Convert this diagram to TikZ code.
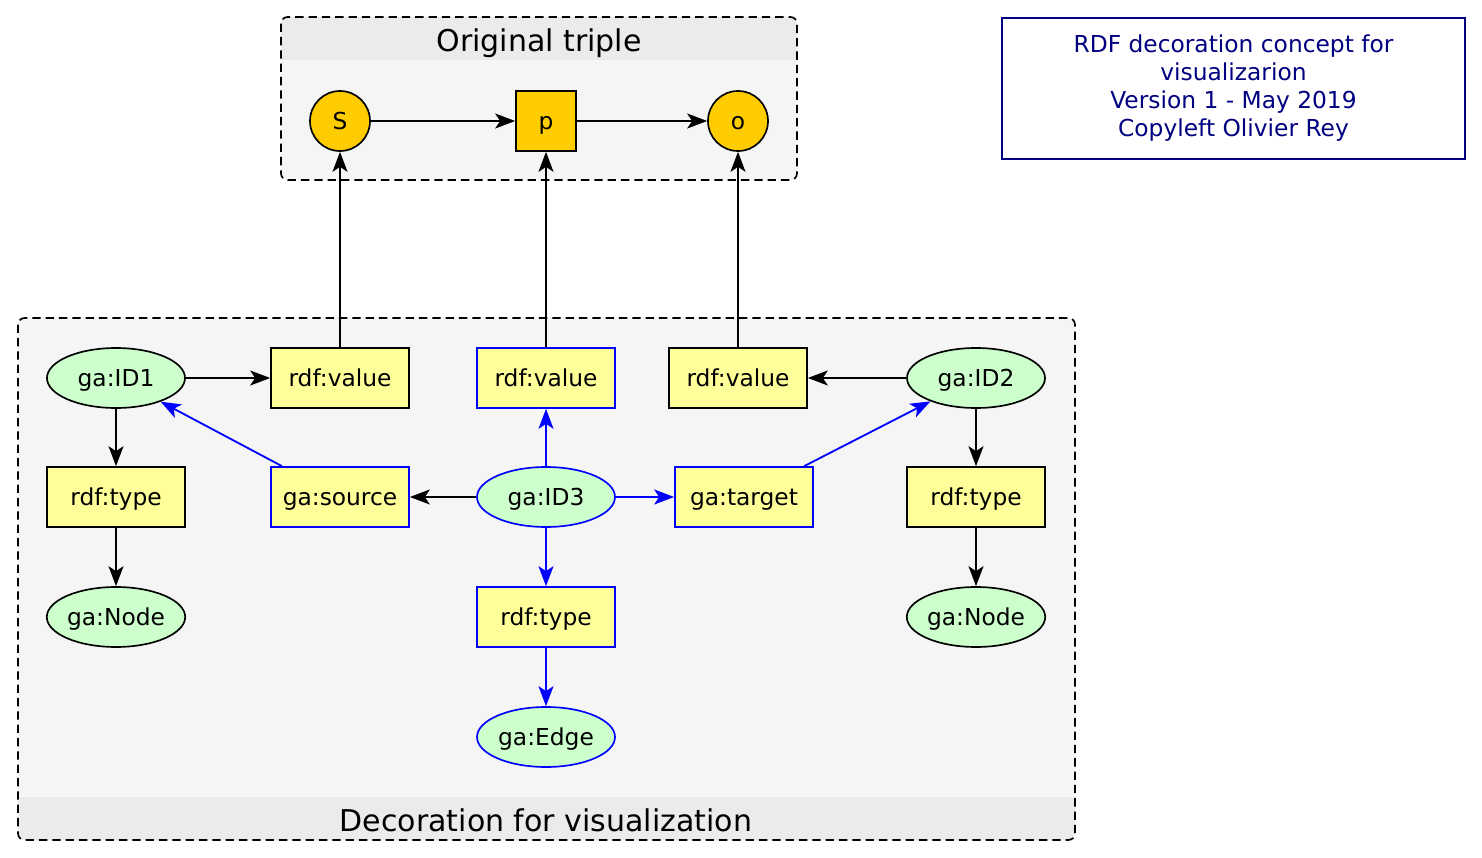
\documentclass[tikz,border=0pt]{standalone}
\usepackage{fontspec}
\setmainfont{DejaVu Sans}
\usetikzlibrary{shapes.geometric,arrows.meta}
\definecolor{gold}{HTML}{FFCC00}
\definecolor{paleyellow}{HTML}{FFFF99}
\definecolor{palegreen}{HTML}{CCFFCC}
\definecolor{navyblue}{HTML}{000080}
\definecolor{clusterbg}{HTML}{F5F5F5}
\definecolor{clusterhd}{HTML}{EBEBEB}

\begin{document}
\begin{tikzpicture}[x=0.6pt, y=-0.6pt,
    every node/.style={font=\fontsize{14pt}{16.8pt}\selectfont, inner sep=0pt},
    lbl/.style={text height=10.4pt, text depth=0pt},
    res/.style={lbl, circle, draw, line width=1pt, fill=gold, minimum size=36pt},
    prop/.style={lbl, rectangle, draw, line width=1pt, fill=paleyellow, minimum width=82.8pt, minimum height=36pt},
    ent/.style={lbl, ellipse, draw, line width=1pt, fill=palegreen, minimum width=82.8pt, minimum height=36pt},
    arr/.style={-{Stealth[length=12pt,width=9pt,inset=3pt]}, line width=1.1pt},
    cluster/.style={draw, line width=1pt, rounded corners=4pt, dash pattern=on 5pt off 3pt},
    ctitle/.style={font=\fontsize{18pt}{21.6pt}\selectfont, text height=13.3pt, text depth=0pt}]
    \useasboundingbox (0,0) rectangle (1482,858);
    \fill[white] (0,0) rectangle (1482,858);
    % clusters: box corners, then header band
    \foreach \xa/\ya/\xb/\yb/\ha/\hb in {281/17/797/180/17/60, 18/318/1075/840/797/840} {
        \fill[clusterbg, rounded corners=4pt] (\xa,\ya) rectangle (\xb,\yb);
        \begin{scope}
            \clip[rounded corners=4pt] (\xa,\ya) rectangle (\xb,\yb);
            \fill[clusterhd] (\xa,\ha) rectangle (\xb,\hb);
        \end{scope}
        \draw[cluster] (\xa,\ya) rectangle (\xb,\yb);
    }
    \node[ctitle] (tripletitle) at (539,40) {Original triple};
    \node[ctitle] (decotitle) at (546,820) {Decoration for visualization};

    % original triple
    \node[res] (s) at (340,121) {S};
    \node[prop, fill=gold, minimum width=36pt] (p) at (546,121) {p};
    \node[res] (o) at (738,121) {o};

    % decoration
    \node[ent] (id1) at (116,378) {ga:ID1};
    \node[prop] (value1) at (340,378) {rdf:value};
    \node[prop, draw=blue] (value3) at (546,378) {rdf:value};
    \node[prop] (value2) at (738,378) {rdf:value};
    \node[ent] (id2) at (976,378) {ga:ID2};

    \node[prop] (type1) at (116,497) {rdf:type};
    \node[prop, draw=blue] (source) at (340,497) {ga:source};
    \node[ent, draw=blue] (id3) at (546,497) {ga:ID3};
    \node[prop, draw=blue] (target) at (744,497) {ga:target};
    \node[prop] (type2) at (976,497) {rdf:type};

    \node[ent] (node1) at (116,617) {ga:Node};
    \node[prop, draw=blue] (type3) at (546,617) {rdf:type};
    \node[ent] (node2) at (976,617) {ga:Node};

    \node[ent, draw=blue] (edge) at (546,737) {ga:Edge};

    \node[draw=navyblue, line width=1pt, text=navyblue, align=center,
        minimum width=277.8pt, minimum height=84.6pt] (info) at (1233.5,88.5)
        {RDF decoration concept for\\visualizarion\\Version 1 - May 2019\\Copyleft Olivier Rey};

    % edges
    \draw[arr] (s) -- (p);
    \draw[arr] (p) -- (o);
    \draw[arr] (value1) -- (s);
    \draw[arr] (value3) -- (p);
    \draw[arr] (value2) -- (o);
    \draw[arr] (id1) -- (value1);
    \draw[arr] (id1) -- (type1);
    \draw[arr] (type1) -- (node1);
    \draw[arr] (id2) -- (value2);
    \draw[arr] (id2) -- (type2);
    \draw[arr] (type2) -- (node2);
    \draw[arr] (id3) -- (source);
    \draw[arr, blue] (source) -- (id1);
    \draw[arr, blue] (id3) -- (value3);
    \draw[arr, blue] (id3) -- (target);
    \draw[arr, blue] (target) -- (id2);
    \draw[arr, blue] (id3) -- (type3);
    \draw[arr, blue] (type3) -- (edge);
\end{tikzpicture}
\end{document}
